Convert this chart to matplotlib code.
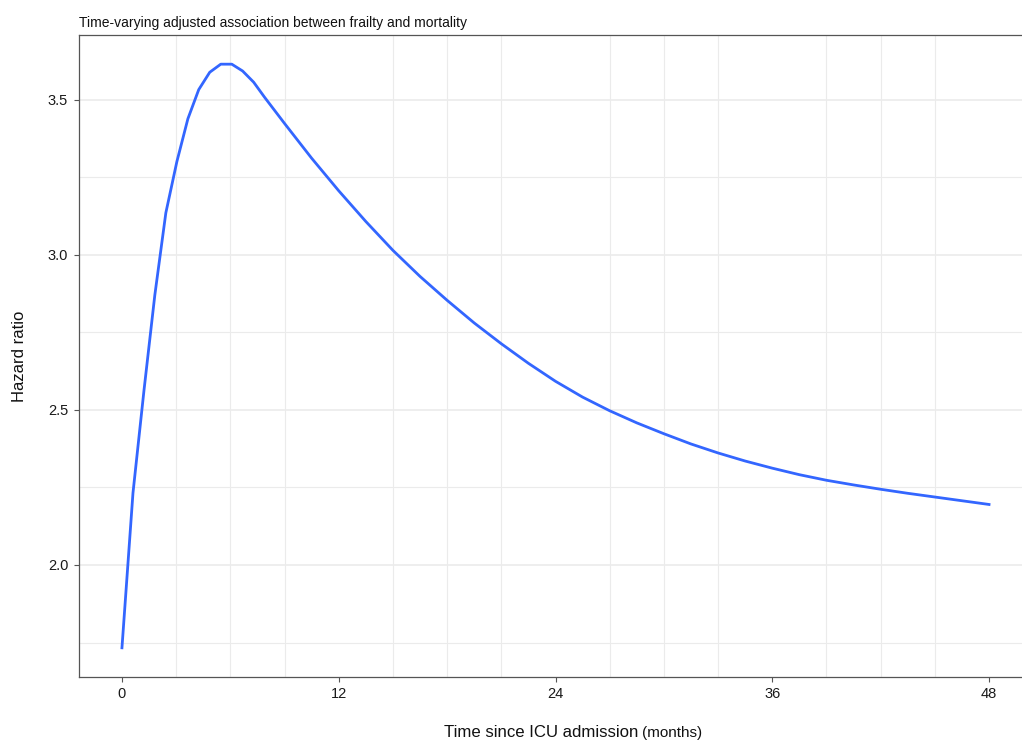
import numpy as np
import matplotlib
matplotlib.use("Agg")
import matplotlib.pyplot as plt
from matplotlib.ticker import FixedLocator

# time since ICU admission (months) and estimated hazard ratio
months = [0.0, 0.61, 1.22, 1.82, 2.43, 3.04, 3.65, 4.25, 4.86, 5.47, 6.08, 6.68,
          7.29, 7.90, 9.0, 10.5, 12.0, 13.5, 15.0, 16.5, 18.0, 19.5, 21.0, 22.5,
          24.0, 25.5, 27.0, 28.5, 30.0, 31.5, 33.0, 34.5, 36.0, 37.5, 39.0, 40.5,
          42.0, 43.5, 45.0, 46.5, 48.0]
hazard_ratio = [1.733, 2.232, 2.563, 2.870, 3.135, 3.300, 3.438, 3.532, 3.588, 3.614,
                3.614, 3.592, 3.556, 3.507, 3.423, 3.311, 3.206, 3.107, 3.014, 2.930,
                2.853, 2.780, 2.713, 2.650, 2.592, 2.541, 2.497, 2.458, 2.423, 2.390,
                2.361, 2.335, 2.312, 2.291, 2.273, 2.258, 2.244, 2.231, 2.219, 2.207,
                2.195]

x_breaks = [0, 12, 24, 36, 48]
x_minor = [m for m in range(0, 49, 3) if m % 12 != 0]
y_breaks = [2.0, 2.5, 3.0, 3.5]
y_minor = [1.75, 2.25, 2.75, 3.25]

plt.rcParams["font.family"] = ["Liberation Sans", "DejaVu Sans"]

W, H = 1022, 742
fig = plt.figure(figsize=(W / 100, H / 100), dpi=100)

# panel in pixel terms (ggplot-style 5% expansion, right edge runs off the image)
left_px, right_px, top_px, bottom_px = 78.6, 1032.4, 35, 677
ax = fig.add_axes([left_px / W, 1 - bottom_px / H,
                   (right_px - left_px) / W, (bottom_px - top_px) / H])

ax.plot(months, hazard_ratio, color="#3366FF", lw=2.0, solid_joinstyle="round",
        zorder=3)
ax.margins(x=0.05, y=0.05)

grid = "#EBEBEB"
for v in x_minor:
    ax.axvline(v, color=grid, lw=0.8, zorder=1)
for v in y_minor:
    ax.axhline(v, color=grid, lw=0.8, zorder=1)
for v in y_breaks:
    ax.axhline(v, color=grid, lw=1.2, zorder=1)

ax.xaxis.set_major_locator(FixedLocator(x_breaks))
ax.yaxis.set_major_locator(FixedLocator(y_breaks))
ax.set_yticklabels([f"{v:.1f}" for v in y_breaks])

for side in ["left", "bottom", "top"]:
    ax.spines[side].set_color("#555555")
    ax.spines[side].set_linewidth(0.9)
ax.spines["right"].set_visible(False)

ax.tick_params(axis="both", length=3.5, width=0.8, color="#555555",
               labelsize=10.5, labelcolor="#1a1a1a", pad=4)

ax.set_ylabel("Hazard ratio", fontsize=12, labelpad=15, color="#111111")
ax.set_title("Time-varying adjusted association between frailty and mortality",
             loc="left", fontsize=10, pad=6, color="#111111")

# x label: main part plus smaller unit text
fig.text(638 / W, 1 - 737 / H, "Time since ICU admission", ha="right",
         va="baseline", fontsize=12.1, color="#111111")
fig.text(642 / W, 1 - 737 / H, "(months)", ha="left", va="baseline",
         fontsize=11, color="#111111")

fig.savefig("out.png", dpi=100)
